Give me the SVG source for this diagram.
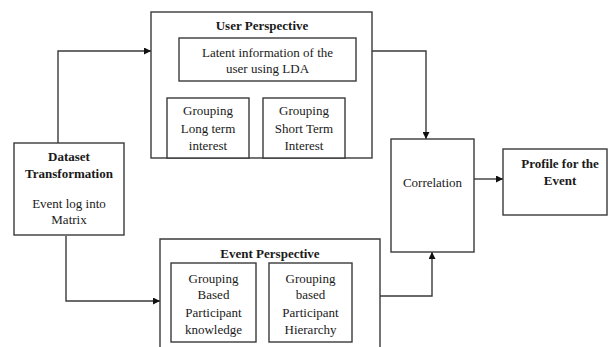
<svg xmlns="http://www.w3.org/2000/svg" width="608" height="347" viewBox="0 0 608 347">
<style>
.box{fill:#fff;stroke:#3a3a3a;stroke-width:1.4}
text{font-family:'Liberation Serif','Times New Roman',Times,serif;font-size:13px;fill:#1a1a1a;text-anchor:middle;dominant-baseline:central}
.b{font-weight:bold}
.c{fill:none;stroke:#3a3a3a;stroke-width:1.4}
</style>
<defs>
<marker id="ah" viewBox="0 0 10 10" refX="10" refY="5" markerWidth="7" markerHeight="7" markerUnits="userSpaceOnUse" orient="auto">
<path d="M0,0 L10,5 L0,10 z" fill="#111"/>
</marker>
</defs>
<rect width="608" height="347" fill="#fff"/>
<g id="connectors">
<path class="c" d="M58,143 V51 H151" marker-end="url(#ah)"/>
<path class="c" d="M66,236 V301 H160" marker-end="url(#ah)"/>
<path class="c" d="M372,51 H426 V139" marker-end="url(#ah)"/>
<path class="c" d="M380,296 H432 V252" marker-end="url(#ah)"/>
<path class="c" d="M474,179 H503" marker-end="url(#ah)"/>
</g>
<g id="user-perspective">
<rect class="box" x="151" y="12" width="221" height="146"/>
<text class="b" x="262" y="25">User Perspective</text>
</g>
<g id="latent-info">
<rect class="box" x="179" y="38" width="177" height="43"/>
<text x="267.5" y="52">Latent information of the</text>
<text x="267.5" y="68">user using LDA</text>
</g>
<g id="grouping-long">
<rect class="box" x="167" y="98" width="82" height="60"/>
<text x="208" y="110">Grouping</text>
<text x="208" y="128">Long term</text>
<text x="208" y="145">interest</text>
</g>
<g id="grouping-short">
<rect class="box" x="263" y="98" width="82" height="60"/>
<text x="304" y="110">Grouping</text>
<text x="304" y="128">Short Term</text>
<text x="304" y="145">Interest</text>
</g>
<g id="dataset">
<rect class="box" x="14" y="143" width="110" height="92"/>
<text class="b" x="69" y="156">Dataset</text>
<text class="b" x="69" y="173">Transformation</text>
<text x="69" y="203">Event log into</text>
<text x="69" y="219">Matrix</text>
</g>
<g id="event-perspective">
<path class="box" d="M160,350 V239 H380 V350"/>
<text class="b" x="270" y="253">Event Perspective</text>
</g>
<g id="grouping-knowledge">
<rect class="box" x="171" y="263" width="85" height="79"/>
<text x="213.5" y="278">Grouping</text>
<text x="213.5" y="294">Based</text>
<text x="213.5" y="312">Participant</text>
<text x="213.5" y="329">knowledge</text>
</g>
<g id="grouping-hierarchy">
<rect class="box" x="269" y="263" width="83" height="79"/>
<text x="310.5" y="278">Grouping</text>
<text x="310.5" y="294">based</text>
<text x="310.5" y="312">Participant</text>
<text x="310.5" y="329">Hierarchy</text>
</g>
<g id="correlation">
<rect class="box" x="391" y="139" width="83" height="113"/>
<text x="432.5" y="182">Correlation</text>
</g>
<g id="profile">
<rect class="box" x="503" y="149" width="104" height="66"/>
<text class="b" x="560" y="163">Profile for the</text>
<text class="b" x="560" y="180">Event</text>
</g>
</svg>
